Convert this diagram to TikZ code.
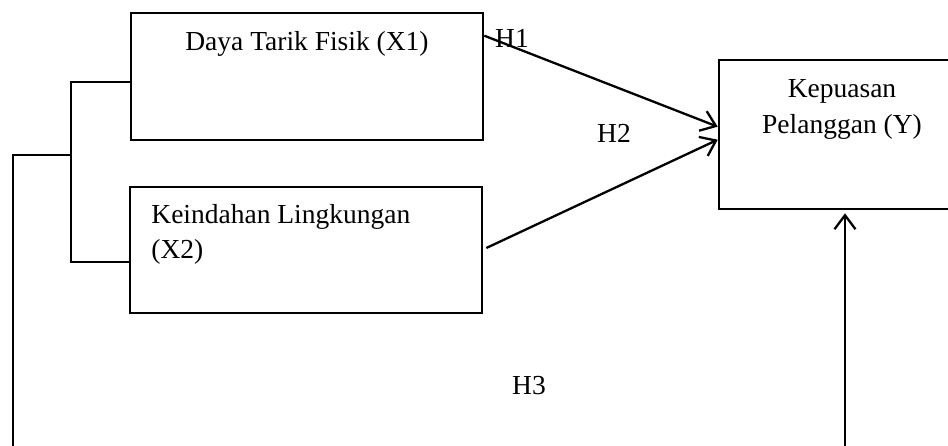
\documentclass[tikz,border=0pt]{standalone}
\usepackage{fontspec}
\setmainfont{Liberation Serif}
\usetikzlibrary{arrows.meta,calc}
\begin{document}
\begin{tikzpicture}[x=0.5pt,y=-0.5pt,
  box/.style={draw, rectangle, inner sep=0pt, line width=1.3pt},
  txt/.style={font=\fontsize{13.75}{16.5}\selectfont, inner sep=0pt},
  link/.style={line width=0.8pt},
  arr/.style={line width=1.15pt, -{Straight Barb[length=7pt,width=10.5pt,line width=1.15pt]}}]
\clip (0,0) rectangle (948,445);

% variable boxes
\node[box, minimum width=176pt, minimum height=63.5pt] (x1) at (307,76.5) {};
\node[box, minimum width=176pt, minimum height=63pt] (x2) at (306,250) {};
\node[box, minimum width=128pt, minimum height=74.5pt] (yb) at (847,134.5) {};

% box captions
\node[txt, anchor=base] (tx1) at (307,50) {Daya Tarik Fisik (X1)};
\node[txt, anchor=base west] (tx2a) at (151,223) {Keindahan Lingkungan};
\node[txt, anchor=base west] (tx2b) at (151,258) {(X2)};
\node[txt, anchor=base] (tya) at (842,97) {Kepuasan};
\node[txt, anchor=base] (tyb) at (842,133) {Pelanggan (Y)};

% hypothesis labels
\node[txt, anchor=base] (h1) at (512,47) {H1};
\node[txt, anchor=base] (h2) at (614,142) {H2};
\node[txt, anchor=base] (h3) at (529,394) {H3};

% bracket joining X1 and X2, running down to the bottom edge
\coordinate (j1) at (71,82);
\coordinate (j2) at (71,262);
\coordinate (jm) at (71,155);
\coordinate (ll) at (13,155);
\coordinate (lb) at (13,450);
\draw[link] (j1 -| x1.west) -- (j1) -- (j2) -- (j2 -| x2.west);
\draw[link] (jm) -- (ll) -- (lb);

% hypothesis arrows
\draw[arr] ($(x1.north east)+(0,24)$) -- ($(yb.north west)+(0,68)$);
\draw[arr] ($(x2.east)+(3,-2)$) -- ($(yb.north west)+(0,81)$);
\coordinate (yup) at (845,450);
\draw[arr] (yup) -- ($(yup |- yb.south)+(0,3)$);
\end{tikzpicture}
\end{document}
